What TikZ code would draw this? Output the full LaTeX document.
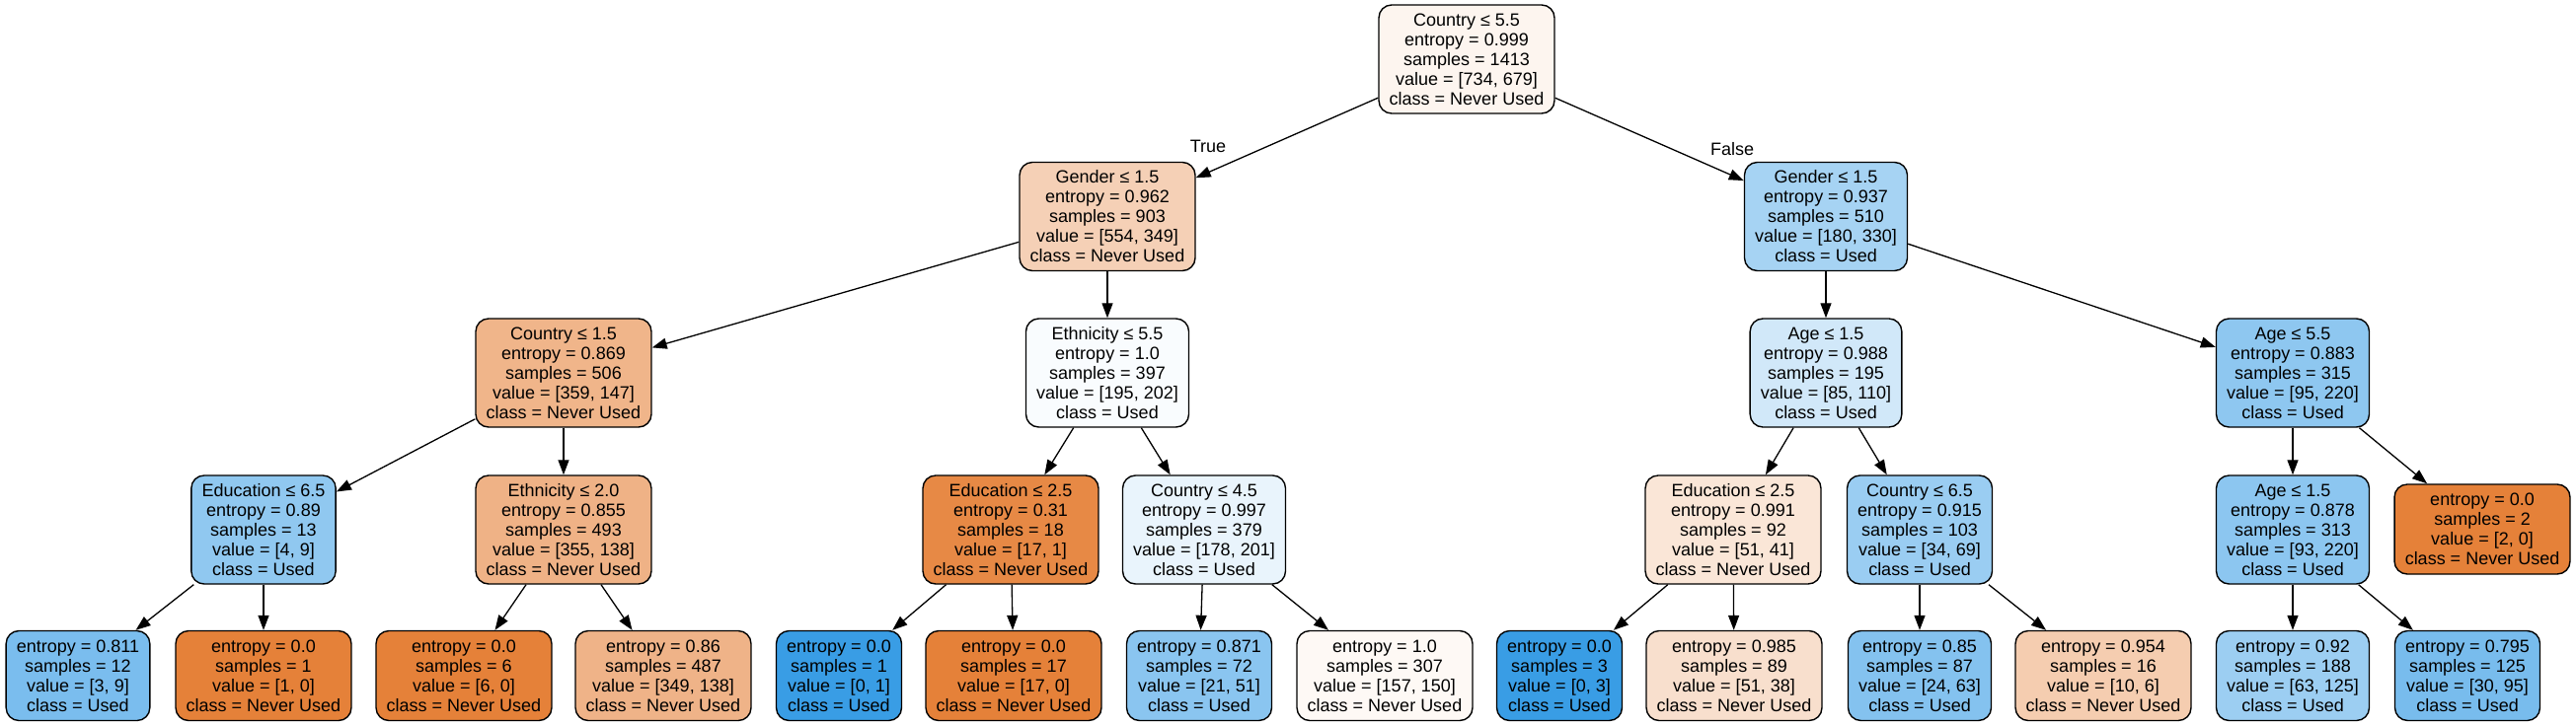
\documentclass[tikz,border=0pt]{standalone}
\usepackage{fontspec}
\setmainfont{Liberation Sans}
\usetikzlibrary{arrows.meta}

\definecolor{nev}{RGB}{229,129,57}
\definecolor{use}{RGB}{57,157,229}

\newcommand{\dsplit}[5]{#1\\entropy = #2\\samples = #3\\value = [#4]\\class = #5}
\newcommand{\dleaf}[4]{entropy = #1\\samples = #2\\value = [#3]\\class = #4}

\begin{document}
\begin{tikzpicture}[
  x=1pt, y=-1pt,
  box/.style={draw, line width=1.4pt, rounded corners=13pt, align=center,
              font=\fontsize{18}{20}\selectfont, inner xsep=10.7pt,
              inner ysep=0pt, minimum height=110pt},
  leaf/.style={box, minimum height=91pt},
  edge/.style={line width=1.3pt, -{Triangle[length=15pt,width=11pt]}},
  lbl/.style={font=\fontsize{18}{20}\selectfont}
]
  \useasboundingbox (0,0) rectangle (2610,736);

  % Root
  \node[box, fill=nev!8] (root) at (1486,60)
    {\dsplit{Country ≤ 5.5}{0.999}{1413}{734, 679}{Never Used}};

  % Depth 1
  \node[box, fill=nev!37] (gL) at (1122,219.5)
    {\dsplit{Gender ≤ 1.5}{0.962}{903}{554, 349}{Never Used}};
  \node[box, fill=use!45] (gR) at (1850,219.5)
    {\dsplit{Gender ≤ 1.5}{0.937}{510}{180, 330}{Used}};

  % Depth 2
  \node[box, fill=nev!59] (cA) at (571,378)
    {\dsplit{Country ≤ 1.5}{0.869}{506}{359, 147}{Never Used}};
  \node[box, fill=use!3] (eA) at (1122,378)
    {\dsplit{Ethnicity ≤ 5.5}{1.0}{397}{195, 202}{Used}};
  \node[box, fill=use!23] (aA) at (1850,378)
    {\dsplit{Age ≤ 1.5}{0.988}{195}{85, 110}{Used}};
  \node[box, fill=use!57] (aB) at (2323,378)
    {\dsplit{Age ≤ 5.5}{0.883}{315}{95, 220}{Used}};

  % Depth 3
  \node[box, fill=use!56] (edA) at (267,537)
    {\dsplit{Education ≤ 6.5}{0.89}{13}{4, 9}{Used}};
  \node[box, fill=nev!61] (etB) at (571,537)
    {\dsplit{Ethnicity ≤ 2.0}{0.855}{493}{355, 138}{Never Used}};
  \node[box, fill=nev!94] (edB) at (1024,537)
    {\dsplit{Education ≤ 2.5}{0.31}{18}{17, 1}{Never Used}};
  \node[box, fill=use!11] (cB) at (1220,537)
    {\dsplit{Country ≤ 4.5}{0.997}{379}{178, 201}{Used}};
  \node[box, fill=nev!20] (edC) at (1756,537)
    {\dsplit{Education ≤ 2.5}{0.991}{92}{51, 41}{Never Used}};
  \node[box, fill=use!51] (cC) at (1945,537)
    {\dsplit{Country ≤ 6.5}{0.915}{103}{34, 69}{Used}};
  \node[box, fill=use!58] (aC) at (2323,537)
    {\dsplit{Age ≤ 1.5}{0.878}{313}{93, 220}{Used}};
  \node[leaf, fill=nev] (lfA) at (2515,536.5)
    {\dleaf{0.0}{2}{2, 0}{Never Used}};

  % Depth 4 (leaves)
  \node[leaf, fill=use!67] (lf1) at (79,685) {\dleaf{0.811}{12}{3, 9}{Used}};
  \node[leaf, fill=nev] (lf2) at (267,685) {\dleaf{0.0}{1}{1, 0}{Never Used}};
  \node[leaf, fill=nev] (lf3) at (470,685) {\dleaf{0.0}{6}{6, 0}{Never Used}};
  \node[leaf, fill=nev!60] (lf4) at (672,685) {\dleaf{0.86}{487}{349, 138}{Never Used}};
  \node[leaf, fill=use] (lf5) at (850,685) {\dleaf{0.0}{1}{0, 1}{Used}};
  \node[leaf, fill=nev] (lf6) at (1027,685) {\dleaf{0.0}{17}{17, 0}{Never Used}};
  \node[leaf, fill=use!59] (lf7) at (1215,685) {\dleaf{0.871}{72}{21, 51}{Used}};
  \node[leaf, fill=nev!5] (lf8) at (1403,685) {\dleaf{1.0}{307}{157, 150}{Never Used}};
  \node[leaf, fill=use] (lf9) at (1580,685) {\dleaf{0.0}{3}{0, 3}{Used}};
  \node[leaf, fill=nev!25] (lf10) at (1757,685) {\dleaf{0.985}{89}{51, 38}{Never Used}};
  \node[leaf, fill=use!62] (lf11) at (1945,685) {\dleaf{0.85}{87}{24, 63}{Used}};
  \node[leaf, fill=nev!40] (lf12) at (2131,685) {\dleaf{0.954}{16}{10, 6}{Never Used}};
  \node[leaf, fill=use!50] (lf13) at (2323,685) {\dleaf{0.92}{188}{63, 125}{Used}};
  \node[leaf, fill=use!68] (lf14) at (2500,685) {\dleaf{0.795}{125}{30, 95}{Used}};

  % Edges
  \draw[edge] (root) -- (gL);
  \draw[edge] (root) -- (gR);
  \draw[edge] (gL) -- (cA);
  \draw[edge] (gL) -- (eA);
  \draw[edge] (gR) -- (aA);
  \draw[edge] (gR) -- (aB);
  \draw[edge] (cA) -- (edA);
  \draw[edge] (cA) -- (etB);
  \draw[edge] (eA) -- (edB);
  \draw[edge] (eA) -- (cB);
  \draw[edge] (aA) -- (edC);
  \draw[edge] (aA) -- (cC);
  \draw[edge] (aB) -- (aC);
  \draw[edge] (aB) -- (lfA);
  \draw[edge] (edA) -- (lf1);
  \draw[edge] (edA) -- (lf2);
  \draw[edge] (etB) -- (lf3);
  \draw[edge] (etB) -- (lf4);
  \draw[edge] (edB) -- (lf5);
  \draw[edge] (edB) -- (lf6);
  \draw[edge] (cB) -- (lf7);
  \draw[edge] (cB) -- (lf8);
  \draw[edge] (edC) -- (lf9);
  \draw[edge] (edC) -- (lf10);
  \draw[edge] (cC) -- (lf11);
  \draw[edge] (cC) -- (lf12);
  \draw[edge] (aC) -- (lf13);
  \draw[edge] (aC) -- (lf14);

  % Branch labels
  \node[lbl] (tru) at (1224,148) {True};
  \node[lbl] (fal) at (1755,151) {False};
\end{tikzpicture}
\end{document}
